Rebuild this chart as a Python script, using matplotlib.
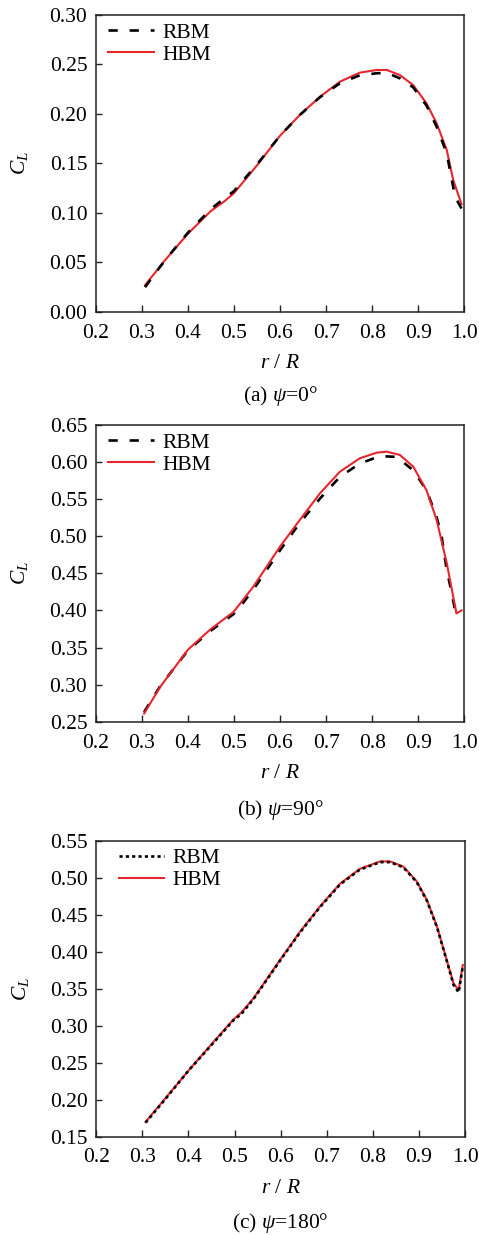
import matplotlib
matplotlib.use('Agg')
import matplotlib.pyplot as plt

plt.rcParams['font.family'] = ['Liberation Serif', 'DejaVu Serif']
plt.rcParams['mathtext.fontset'] = 'custom'
plt.rcParams['mathtext.rm'] = 'Liberation Serif'
plt.rcParams['mathtext.it'] = 'Liberation Serif:italic'

# (a) psi = 0
r_a = [0.307, 0.35, 0.40, 0.45, 0.48, 0.50, 0.55, 0.60, 0.643, 0.687, 0.730, 0.773,
       0.810, 0.832, 0.860, 0.889, 0.918, 0.940, 0.962, 0.976, 0.994]
hbm_a = [0.027, 0.052, 0.079, 0.102, 0.112, 0.120, 0.148, 0.178, 0.199, 0.2174, 0.2326, 0.2417,
         0.2444, 0.2444, 0.2393, 0.2292, 0.2107, 0.1905, 0.1635, 0.1332, 0.1089]
r_a2 = [0.307, 0.35, 0.40, 0.45, 0.48, 0.50, 0.55, 0.60, 0.643, 0.687, 0.730, 0.773,
        0.810, 0.832, 0.860, 0.889, 0.918, 0.940, 0.962, 0.980, 0.994]
rbm_a = [0.025, 0.052, 0.080, 0.104, 0.115, 0.122, 0.149, 0.178, 0.199, 0.217, 0.231, 0.239,
         0.2411, 0.2415, 0.2360, 0.2269, 0.2085, 0.1871, 0.1600, 0.1163, 0.1045]

# (b) psi = 90
r_b = [0.305, 0.34, 0.40, 0.448, 0.499, 0.517, 0.542, 0.60, 0.643, 0.687, 0.730, 0.773,
       0.810, 0.832, 0.860, 0.889, 0.918, 0.940, 0.962, 0.983, 0.994]
hbm_b = [0.261, 0.297, 0.347, 0.374, 0.398, 0.412, 0.432, 0.486, 0.522, 0.558, 0.587, 0.605,
         0.6127, 0.614, 0.6096, 0.594, 0.562, 0.522, 0.4635, 0.396, 0.400]
r_b2 = [0.305, 0.34, 0.40, 0.448, 0.499, 0.517, 0.542, 0.60, 0.643, 0.687, 0.730, 0.773,
        0.817, 0.853, 0.889, 0.918, 0.940, 0.951, 0.962, 0.973, 0.980]
rbm_b = [0.263, 0.298, 0.346, 0.372, 0.395, 0.408, 0.428, 0.481, 0.518, 0.551, 0.580, 0.598,
         0.608, 0.607, 0.589, 0.562, 0.526, 0.499, 0.454, 0.423, 0.400]

# (c) psi = 180
r_c = [0.307, 0.35, 0.401, 0.45, 0.497, 0.515, 0.541, 0.601, 0.642, 0.685, 0.729, 0.772,
       0.816, 0.837, 0.866, 0.895, 0.917, 0.939, 0.960, 0.975, 0.986, 0.995]
hbm_c = [0.170, 0.202, 0.240, 0.275, 0.308, 0.318, 0.337, 0.391, 0.427, 0.461, 0.492, 0.512,
         0.522, 0.522, 0.515, 0.495, 0.470, 0.434, 0.389, 0.357, 0.348, 0.382]
rbm_c = [0.169, 0.201, 0.240, 0.274, 0.307, 0.316, 0.336, 0.390, 0.426, 0.460, 0.491, 0.511,
         0.521, 0.521, 0.514, 0.494, 0.469, 0.433, 0.388, 0.355, 0.345, 0.380]

panels = [
    (r_a2, rbm_a, r_a, hbm_a, (0.0, 0.30), [0.00, 0.05, 0.10, 0.15, 0.20, 0.25, 0.30],
     (0, (3.5, 4.5)), r'(a) $\it{\psi}$=0°', [0.1998, 0.7474, 0.7695, 0.2405], 3, 0.014),
    (r_b2, rbm_b, r_b, hbm_b, (0.25, 0.65), [0.25, 0.30, 0.35, 0.40, 0.45, 0.50, 0.55, 0.60, 0.65],
     (0, (3.5, 4.5)), r'(b) $\it{\psi}$=90°', [0.1998, 0.4156, 0.7695, 0.2403], 1, 0.014),
    (r_c, rbm_c, r_c, hbm_c, (0.15, 0.55), [0.15, 0.20, 0.25, 0.30, 0.35, 0.40, 0.45, 0.50, 0.55],
     (0, (1.2, 1.2)), r'(c) $\it{\psi}$=180°', [0.2010, 0.0796, 0.7700, 0.2397], 3, 0.04),
]
caption_y = [396, 810, 1223]

fig = plt.figure(figsize=(4.79, 12.35), dpi=100)
red = '#e8252d'
fs = 15.5

for i, (xr, yr, xh, yh, ylim, yticks, ls, cap, pos, zr, lx) in enumerate(panels):
    ax = fig.add_axes(pos)
    ax.plot(xr, yr, color='black', linestyle=ls, linewidth=1.9, label='RBM', zorder=zr)
    ax.plot(xh, yh, color=red, linewidth=1.5, label='HBM', zorder=2)
    ax.set_xlim(0.2, 1.0)
    ax.set_ylim(*ylim)
    ax.set_xticks([0.2, 0.3, 0.4, 0.5, 0.6, 0.7, 0.8, 0.9, 1.0])
    ax.set_xticklabels(['0.2', '0.3', '0.4', '0.5', '0.6', '0.7', '0.8', '0.9', '1.0'])
    ax.set_yticks(yticks)
    ax.set_yticklabels(['%.2f' % v for v in yticks])
    ax.tick_params(direction='in', length=5, width=1, labelsize=fs, color='#222222', pad=8.5)
    ax.tick_params(axis='y', length=4, pad=6)
    for s in ax.spines.values():
        s.set_color('#222222')
        s.set_linewidth(1.1)
    ax.set_xlabel(r'$r$ / $R$', fontsize=fs, labelpad=8)
    ax.set_ylabel(r'$C_L$', fontsize=fs, labelpad=14)
    ax.legend(loc='upper left', bbox_to_anchor=(lx, 1.0), frameon=False, fontsize=fs,
              handlelength=2.1, handletextpad=0.4, labelspacing=0.1,
              borderaxespad=0.15, borderpad=0.2)
    fig.text((pos[0] + pos[2] / 2), 1 - caption_y[i] / 1235, cap, ha='center', va='center',
             fontsize=fs)

fig.savefig('out.png', dpi=100)
